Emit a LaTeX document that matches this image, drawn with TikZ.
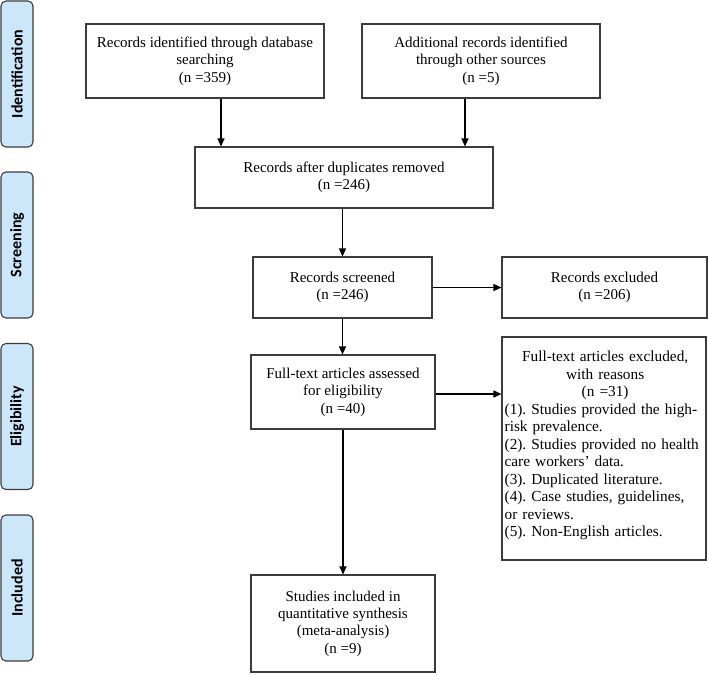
\documentclass[tikz,border=0pt]{standalone}
\usepackage{fontspec}
\setmainfont{Liberation Serif}
\newfontfamily\labfont{Carlito}
\usetikzlibrary{arrows.meta,calc}
\definecolor{sidefill}{HTML}{CCE7FA}
\definecolor{edge}{HTML}{3C3C3C}
\frenchspacing
\begin{document}
\begin{tikzpicture}[x=1pt,y=-1pt,
  box/.style={draw=edge, line width=1.1pt, rectangle, inner sep=1pt, align=center,
    font=\fontsize{15}{17.4}\selectfont},
  side/.style={draw=edge, line width=1.1pt, fill=sidefill, rounded corners=5pt,
    minimum width=32pt, minimum height=146pt, inner sep=0pt},
  sidetext/.style={rotate=90, font=\labfont\bfseries\fontsize{16}{18}\selectfont},
  arr/.style={draw=black, line width=1.1pt, -{Triangle[length=8pt,width=7pt]}}]
\useasboundingbox (0,0) rectangle (708,674);
% side labels
\node[side] (s1) at (17,74) {};
\node[sidetext] (s1t) at (s1.center) {Identification};
\node[side] (s2) at (17,245) {};
\node[sidetext] (s2t) at (s2.center) {Screening};
\node[side] (s3) at (17,416.5) {};
\node[sidetext] (s3t) at (s3.center) {Eligibility};
\node[side] (s4) at (17,588) {};
\node[sidetext] (s4t) at (s4.center) {Included};
% boxes
\node[box, minimum width=238pt, minimum height=74pt] (b1) at (205,61)
  {Records identified through database\\searching\\(n =359)};
\node[box, minimum width=238pt, minimum height=74pt] (b2) at (481,61)
  {Additional records identified\\through other sources\\(n =5)};
\node[box, minimum width=298pt, minimum height=61pt] (dup) at (344,177.5)
  {Records after duplicates removed\\(n =246)};
\node[box, minimum width=179pt, minimum height=61pt] (scr) at (342.5,287.5)
  {Records screened\\(n =246)};
\node[box, minimum width=205pt, minimum height=61pt] (ex1) at (604.5,287.5)
  {Records excluded\\(n =206)};
\node[box, minimum width=184pt, minimum height=74pt] (full) at (343,392)
  {Full-text articles assessed\\for eligibility\\(n =40)};
\node[box, minimum width=204pt, minimum height=223pt] (ex2) at (604,448.5) {};
\node[anchor=north west, text width=201pt, inner sep=0pt, align=left,
  font=\fontsize{15.3}{17.5}\selectfont] (ex2t) at ([xshift=3pt,yshift=-14.5pt]ex2.north west)
  {\parindent=0pt
   {\centering Full-text articles excluded,\\with reasons\\(n =31)\par}
   \raggedright
   (1). Studies provided the high-\\risk prevalence.\\
   (2). Studies provided no health\\care workers' data.\\
   (3). Duplicated literature.\\
   (4). Case studies, guidelines,\\or reviews.\\
   (5). Non-English articles.\par};
\node[box, minimum width=184pt, minimum height=97pt] (inc) at (343,623.5)
  {Studies included in\\quantitative synthesis\\(meta-analysis)\\(n =9)};
% arrows
\draw[arr] ([xshift=16pt]b1.south) -- ([xshift=16pt]b1.south |- dup.north);
\draw[arr] ([xshift=-16pt]b2.south) -- ([xshift=-16pt]b2.south |- dup.north);
\draw[arr] (scr.north |- dup.south) -- (scr.north);
\draw[arr] (scr.east) -- (ex1.west);
\draw[arr] (scr.south) -- (full.north -| scr.south);
\draw[arr] ([yshift=-2pt]full.east) -- ([yshift=-2pt]full.east -| ex2.west);
\draw[arr] (full.south) -- (inc.north);
\end{tikzpicture}
\end{document}
